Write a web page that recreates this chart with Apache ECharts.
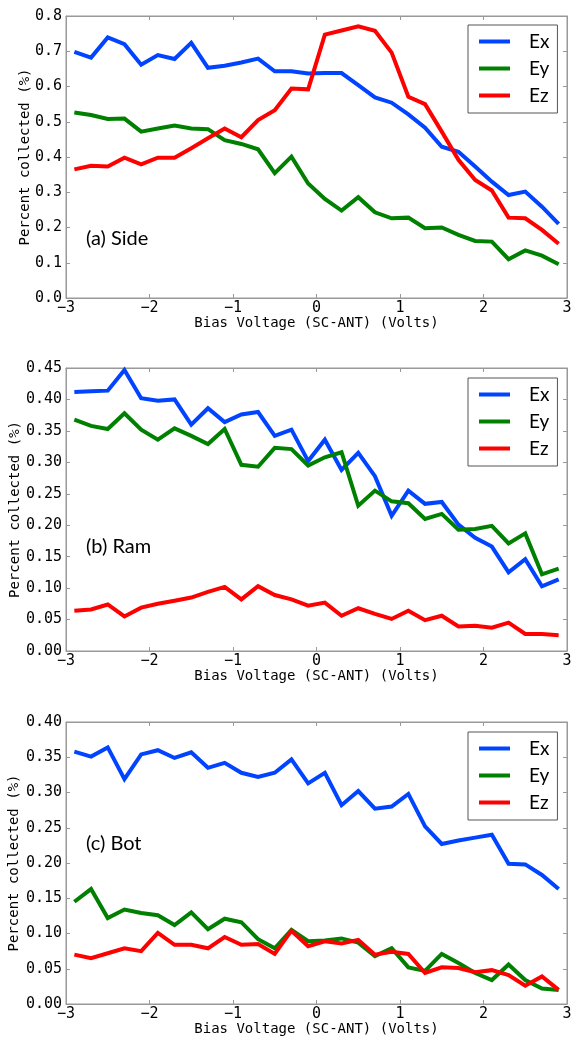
<!DOCTYPE html>
<html>
<head>
<meta charset="utf-8">
<script src="https://cdn.jsdelivr.net/npm/echarts@6/dist/echarts.min.js"></script>
<style>
html,body{margin:0;padding:0;background:#fff;}
#c{width:573px;height:1042px;}
</style>
</head>
<body>
<div id="c"></div>
<script>
// Bias voltage (SC-ANT) in volts
const biasVolts = [-2.9,-2.7,-2.5,-2.3,-2.1,-1.9,-1.7,-1.5,-1.3,-1.1,-0.9,-0.7,-0.5,-0.3,-0.1,0.1,0.3,0.5,0.7,0.9,1.1,1.3,1.5,1.7,1.9,2.1,2.3,2.5,2.7,2.9];

// (a) Side
const sideEx = [0.698,0.682,0.739,0.720,0.662,0.689,0.678,0.724,0.653,0.659,0.668,0.679,0.643,0.643,0.637,0.638,0.638,0.604,0.569,0.554,0.521,0.483,0.429,0.415,0.373,0.330,0.292,0.302,0.259,0.210];
const sideEy = [0.526,0.519,0.508,0.509,0.472,0.481,0.489,0.481,0.479,0.448,0.437,0.422,0.354,0.401,0.325,0.281,0.248,0.286,0.243,0.226,0.228,0.198,0.200,0.179,0.162,0.160,0.110,0.135,0.120,0.096];
const sideEz = [0.365,0.375,0.373,0.398,0.379,0.398,0.398,0.425,0.453,0.481,0.456,0.505,0.533,0.594,0.592,0.747,0.759,0.771,0.758,0.696,0.571,0.550,0.472,0.392,0.335,0.305,0.228,0.226,0.193,0.154];

// (b) Ram
const ramEx = [0.412,0.413,0.414,0.447,0.402,0.398,0.400,0.360,0.386,0.364,0.376,0.380,0.342,0.352,0.302,0.336,0.288,0.315,0.278,0.215,0.255,0.234,0.237,0.201,0.180,0.166,0.125,0.146,0.103,0.114];
const ramEy = [0.368,0.358,0.353,0.378,0.352,0.336,0.354,0.342,0.329,0.353,0.296,0.293,0.323,0.321,0.295,0.308,0.316,0.231,0.255,0.238,0.235,0.210,0.218,0.193,0.194,0.199,0.171,0.187,0.122,0.131];
const ramEz = [0.064,0.066,0.074,0.055,0.069,0.075,0.080,0.085,0.094,0.102,0.082,0.103,0.089,0.082,0.072,0.077,0.056,0.068,0.059,0.051,0.064,0.049,0.056,0.039,0.040,0.037,0.045,0.027,0.027,0.025];

// (c) Bot
const botEx = [0.358,0.351,0.364,0.319,0.354,0.360,0.349,0.357,0.335,0.342,0.328,0.322,0.328,0.347,0.313,0.328,0.282,0.302,0.277,0.280,0.298,0.252,0.227,0.232,0.236,0.240,0.199,0.198,0.183,0.163];
const botEy = [0.145,0.163,0.122,0.134,0.129,0.126,0.112,0.130,0.106,0.121,0.116,0.092,0.079,0.105,0.089,0.090,0.093,0.087,0.068,0.079,0.052,0.047,0.071,0.058,0.044,0.034,0.056,0.034,0.022,0.020];
const botEz = [0.070,0.065,0.072,0.079,0.075,0.101,0.084,0.084,0.079,0.095,0.084,0.085,0.071,0.104,0.082,0.089,0.086,0.091,0.070,0.074,0.071,0.044,0.052,0.051,0.045,0.048,0.041,0.026,0.039,0.020];

const seriesNames = ['Ex','Ey','Ez'];
const panelLabels = ['(a) Side','(b) Ram','(c) Bot'];
const yMax = [0.8, 0.45, 0.40];
const yStep = [0.1, 0.05, 0.05];
const yDecimals = [1, 2, 2];
const xTicks = {min:-3, max:3, step:1};
const xAxisTitle = 'Bias Voltage (SC-ANT) (Volts)';
const yAxisTitle = 'Percent collected (%)';

const panels = [[sideEx,sideEy,sideEz],[ramEx,ramEy,ramEz],[botEx,botEy,botEz]];
const colors = ['#0044ff','#008000','#ff0000'];
const gridTops = [16, 368, 722];
const gridHeights = [282, 283, 282];
const legendTops = [25, 378, 732];
const labelTops = [229, 537, 834];
const yNameGaps = [34, 44, 45];

const mono = 'DejaVu Sans Mono';
const axisGray = '#999';
function fmtX(v){ return v < 0 ? '\u2212' + Math.abs(v) : String(v); }

const grid = [], xAxis = [], yAxis = [], series = [], legend = [], graphic = [];
for (let p = 0; p < 3; p++) {
  grid.push({left:66, width:501, top:gridTops[p], height:gridHeights[p], show:true, borderColor:axisGray, borderWidth:1, backgroundColor:'#fff', containLabel:false, outerBoundsMode:'none'});
  // bottom x axis
  xAxis.push({type:'value', gridIndex:p, min:xTicks.min, max:xTicks.max, interval:xTicks.step,
    axisLine:{show:true, onZero:false, lineStyle:{color:axisGray}},
    axisTick:{show:true, inside:true, length:4, lineStyle:{color:axisGray}},
    splitLine:{show:false},
    axisLabel:{formatter:fmtX, fontFamily:mono, fontSize:15, color:'#000', margin:3},
    name:xAxisTitle, nameLocation:'middle', nameGap:18, nameMoveOverlap:false,
    nameTextStyle:{fontFamily:mono, fontSize:14, color:'#000'}});
  // top x axis (ticks only)
  xAxis.push({type:'value', gridIndex:p, position:'top', min:xTicks.min, max:xTicks.max, interval:xTicks.step,
    axisLine:{show:true, onZero:false, lineStyle:{color:axisGray}},
    axisTick:{show:true, inside:true, length:4, lineStyle:{color:axisGray}},
    splitLine:{show:false}, axisLabel:{show:false}});
  yAxis.push({type:'value', gridIndex:p, min:0, max:yMax[p], interval:yStep[p],
    axisLine:{show:true, onZero:false, lineStyle:{color:axisGray}},
    axisTick:{show:true, inside:true, length:4, lineStyle:{color:axisGray}},
    splitLine:{show:false},
    axisLabel:{formatter:v=>v.toFixed(yDecimals[p]), fontFamily:mono, fontSize:15, color:'#000', margin:4},
    name:yAxisTitle, nameLocation:'middle', nameGap:yNameGaps[p], nameMoveOverlap:false,
    nameTextStyle:{fontFamily:mono, fontSize:14, color:'#000'}});
  yAxis.push({type:'value', gridIndex:p, position:'right', min:0, max:yMax[p], interval:yStep[p],
    axisLine:{show:true, onZero:false, lineStyle:{color:axisGray}},
    axisTick:{show:true, inside:true, length:4, lineStyle:{color:axisGray}},
    splitLine:{show:false}, axisLabel:{show:false}});
  for (let s = 0; s < 3; s++) {
    series.push({type:'line', name:seriesNames[s], xAxisIndex:p*2, yAxisIndex:p*2,
      data:biasVolts.map((x,i)=>[x, panels[p][s][i]]),
      showSymbol:false, symbol:'none', lineStyle:{width:4, color:colors[s], join:'miter'}, itemStyle:{color:colors[s]},
      animation:false, z:2+s});
  }
  legend.push({data:seriesNames, orient:'vertical', left:468, top:legendTops[p],
    padding:[7,8,8,11], itemGap:8, itemWidth:31, itemHeight:4, icon:'rect',
    backgroundColor:'#fff', borderColor:'#555', borderWidth:1,
    textStyle:{fontFamily:'Lato', fontSize:19, color:'#000', padding:[0,0,0,14]},
    selectedMode:false});
  graphic.push({type:'text', left:86, top:labelTops[p], z:100,
    style:{text:panelLabels[p], font:'20px Lato', fill:'#000'}});
}

const chart = echarts.init(document.getElementById('c'), null, {renderer:'canvas'});
chart.setOption({animation:false, grid, xAxis, yAxis, series, legend, graphic});
</script>
</body>
</html>
